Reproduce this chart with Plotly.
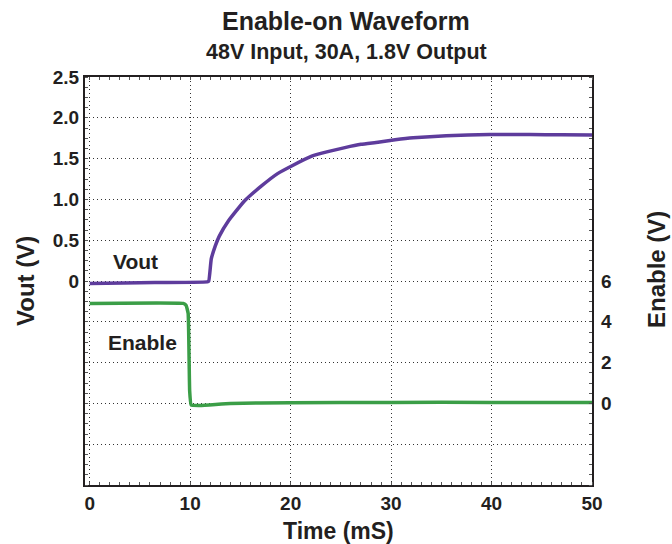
import plotly.graph_objects as go

# ---- data ----
vout_t = [0, 5, 11.7, 11.85, 12.1, 12.5, 12.9, 13.8, 15.4, 17.1, 18.7, 20.1, 22.1, 23.7,
          25.4, 27.0, 28.7, 30.4, 32.2, 35.5, 39.8, 43.8, 47.0, 50.0]
vout_v = [-0.03, -0.02, -0.01, 0.0, 0.27, 0.43, 0.55, 0.735, 0.98, 1.165, 1.316, 1.41, 1.53,
          1.585, 1.635, 1.675, 1.70, 1.73, 1.755, 1.78, 1.795, 1.795, 1.792, 1.79]

en_t = [0, 9.3, 9.6, 9.8, 9.95, 10.1, 11.0, 14.0, 20.0, 30.0, 40.0, 50.0]
en_v = [4.9, 4.9, 4.8, 4.4, 0.6, -0.08, -0.1, 0.0, 0.03, 0.05, 0.05, 0.05]

x_ticks = [0, 10, 20, 30, 40, 50]
y_grid = [-2.5, -2.0, -1.5, -1.0, -0.5, 0, 0.5, 1.0, 1.5, 2.0, 2.5]
y_text = ["", "", "", "", "", "0", "0.5", "1.0", "1.5", "2.0", "2.5"]
y2_ticks = [0, 2, 4, 6]

title = "Enable-on Waveform"
subtitle = "48V Input, 30A, 1.8V Output"

PURPLE = "#5e3c9c"
GREEN = "#3b9e47"
FONT = "Liberation Sans, Arial, sans-serif"
DARK = "#231f20"

fig = go.Figure()
fig.add_trace(go.Scatter(x=vout_t, y=vout_v, mode="lines", line=dict(color=PURPLE, width=3.5, shape="spline", smoothing=0.4),
                         yaxis="y", showlegend=False, hoverinfo="skip"))
fig.add_trace(go.Scatter(x=en_t, y=en_v, mode="lines", line=dict(color=GREEN, width=3.5, shape="spline", smoothing=0.3),
                         yaxis="y2", showlegend=False, hoverinfo="skip"))

tickfont = dict(family=FONT, size=19, color=DARK, weight="bold")

def bold(size):
    return dict(size=size, family=FONT, color=DARK, weight="bold")

GRID = dict(showgrid=True, gridcolor="#333", griddash="1px,3px", gridwidth=1)

fig.update_layout(
    width=672, height=544,
    margin=dict(l=85, r=80, t=77, b=59),
    paper_bgcolor="white", plot_bgcolor="white",
    font=dict(family=FONT, color=DARK),
    xaxis=dict(range=[-0.47, 50], tickvals=x_ticks, ticks="", zeroline=False, showline=True,
               linecolor=DARK, linewidth=2, mirror="allticks", tickfont=tickfont, ticklabelstandoff=0,
               minor=dict(dtick=1, tick0=0, ticks="inside", ticklen=3, tickcolor="#555", showgrid=False),
               **GRID),
    yaxis=dict(range=[-2.5, 2.5], tickvals=y_grid, ticktext=y_text, ticks="", zeroline=False,
               showline=True, linecolor=DARK, linewidth=2, mirror="allticks", tickfont=tickfont,
               minor=dict(dtick=0.125, tick0=0, ticks="inside", ticklen=3, tickcolor="#555", showgrid=False),
               **GRID),
    yaxis2=dict(range=[-4, 16], overlaying="y", side="right", tickvals=y2_ticks, ticks="",
                showgrid=False, zeroline=False, showline=False, tickfont=tickfont, ticklabelstandoff=8),
    annotations=[
        dict(text=title, xref="paper", yref="paper", x=0.515, y=1, yshift=56,
             showarrow=False, font=bold(25), yanchor="middle"),
        dict(text=subtitle, xref="paper", yref="paper", x=0.515, y=1, yshift=25,
             showarrow=False, font=bold(21.5), yanchor="middle"),
        dict(text="Time (mS)", xref="paper", yref="paper", x=0.5, y=0, yshift=-46,
             showarrow=False, font=bold(23), yanchor="middle"),
        dict(text="Vout (V)", xref="paper", yref="paper", x=0, y=0.5, xshift=-60,
             showarrow=False, textangle=-90, font=bold(24), xanchor="center"),
        dict(text="Enable (V)", xref="paper", yref="paper", x=1, y=0.5, yshift=11, xshift=64,
             showarrow=False, textangle=-90, font=bold(24), xanchor="center"),
        dict(text="Vout", xref="x", yref="y", x=4.6, y=0.24, showarrow=False, font=bold(21)),
        dict(text="Enable", xref="x", yref="y2", x=5.3, y=3.0, showarrow=False, font=bold(21)),
    ],
)

fig.write_html("out.html", config={"displayModeBar": False},
               post_script="document.body.style.margin='0';document.body.style.overflow='hidden';")
